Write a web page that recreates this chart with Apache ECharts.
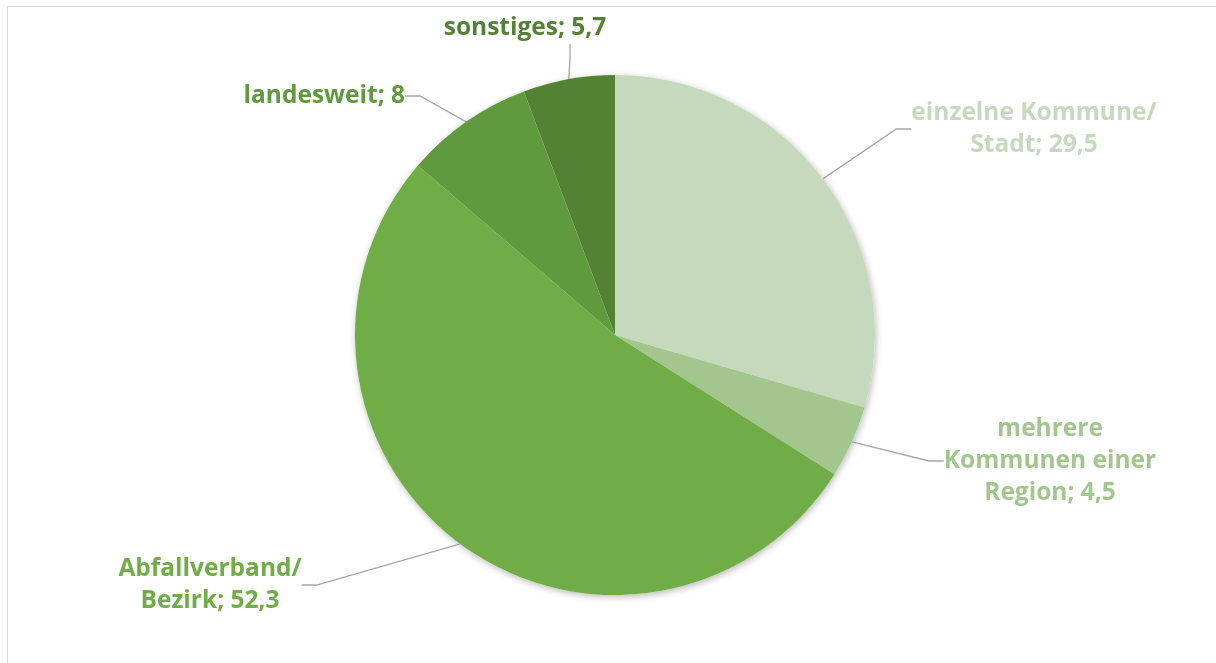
<!DOCTYPE html>
<html><head><meta charset="utf-8">
<script src="https://cdn.jsdelivr.net/npm/echarts@6/dist/echarts.min.js"></script>
<style>html,body{margin:0;padding:0;background:#fff}#c{width:1216px;height:663px;position:relative}
#frame{position:absolute;left:7px;top:6px;right:-2px;bottom:-2px;border:1px solid #d9d9d9;pointer-events:none}</style>
</head><body><div id="c"></div><div id="frame" style="position:absolute"></div>
<script>
const categories = ['einzelne Kommune/\nStadt', 'mehrere\nKommunen einer\nRegion', 'Abfallverband/\nBezirk', 'landesweit', 'sonstiges'];
const values = [29.5, 4.5, 52.3, 8, 5.7];
const valueLabels = ['29,5', '4,5', '52,3', '8', '5,7'];
const colors = ['#C5D9BC', '#A2C68E', '#70AD47', '#609A3F', '#548235'];
const labelPos = [
  {x: 1034, y: 129, align: 'center', pad: [0, 0, 0, 0]},
  {x: 1050, y: 461, align: 'center', pad: [0, 0, 0, 0]},
  {x: 210, y: 585, align: 'center', pad: [0, 0, 0, 0]},
  {x: 405, y: 96, align: 'right', pad: [0, 0, 0, 0]},
  {x: 570, y: 28, align: 'center', pad: [0, 90, 0, 0]}
];
const total = values.reduce((a, b) => a + b, 0);
const chart = echarts.init(document.getElementById('c'));
chart.setOption({
  animation: false,
  series: [{
    type: 'pie', silent: true, z: 1,
    center: [615, 335], radius: 260,
    label: {show: false}, labelLine: {show: false},
    data: [{value: total, itemStyle: {color: '#fff', shadowBlur: 7, shadowColor: 'rgba(0,0,0,0.28)', shadowOffsetX: 1, shadowOffsetY: 2}}]
  }, {
    type: 'pie', z: 2,
    center: [615, 335],
    radius: 260,
    startAngle: 90,
    clockwise: true,
    data: categories.map((n, i) => ({
      name: n, value: values[i],
      itemStyle: {color: colors[i]},
      label: {color: colors[i], formatter: n + '; ' + valueLabels[i], padding: labelPos[i].pad}
    })),
    itemStyle: {borderWidth: 0},
    label: {
      show: true, fontFamily: 'Open Sans', fontWeight: 'bold', fontSize: 24.5,
      lineHeight: 32, align: 'center'
    },
    labelLine: {show: true, lineStyle: {color: '#a6a6a6', width: 1.3}, length: 30, length2: 15},
    labelLayout: function (p) {
      const l = labelPos[p.dataIndex];
      return {x: l.x, y: l.y, align: l.align, verticalAlign: 'middle'};
    }
  }]
});
</script></body></html>
